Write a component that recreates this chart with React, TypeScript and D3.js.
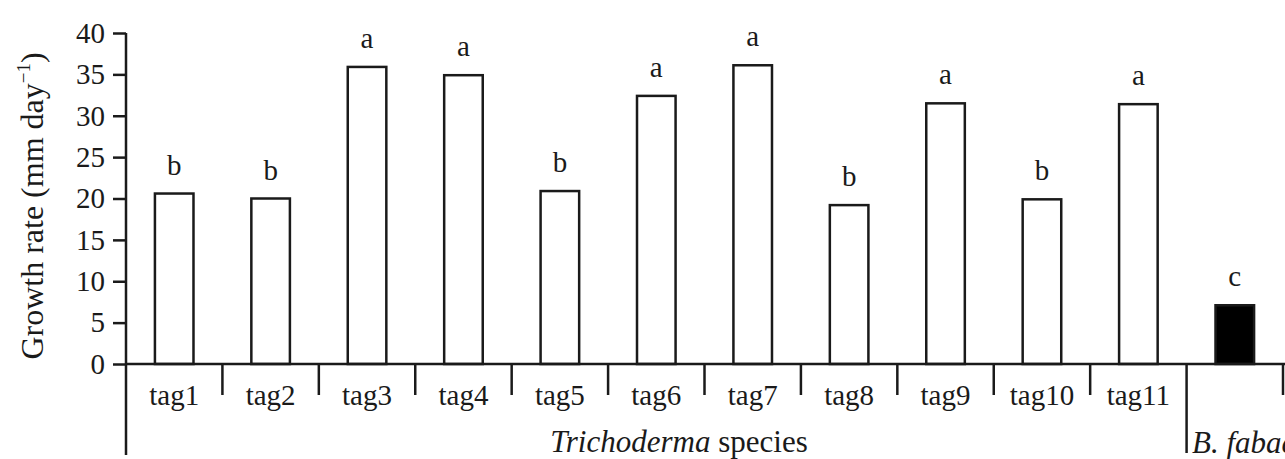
import React, { useEffect, useRef } from 'react';
import * as d3 from 'd3';

const categories = ['tag1', 'tag2', 'tag3', 'tag4', 'tag5', 'tag6', 'tag7', 'tag8', 'tag9', 'tag10', 'tag11', 'B. fabae'];
const growthRate = [20.6, 20.0, 35.9, 34.9, 20.9, 32.4, 36.1, 19.2, 31.5, 19.9, 31.4, 7.1];
const letters = ['b', 'b', 'a', 'a', 'b', 'a', 'a', 'b', 'a', 'b', 'a', 'c'];
const yTicks = [0, 5, 10, 15, 20, 25, 30, 35, 40];

const W = 1285;
const H = 459;

const App: React.FC = () => {
  const svgRef = useRef<SVGSVGElement>(null);

  useEffect(() => {
    if (!svgRef.current) return;
    const svg = d3.select(svgRef.current);
    svg.selectAll('*').remove();

    const font = '"Liberation Serif", "Times New Roman", serif';
    const left = 126;
    const right = 1283;
    const top = 33;
    const base = 364;

    const x = d3.scaleBand<string>().domain(categories).range([left, right]);
    const y = d3.scaleLinear().domain([0, 40]).range([base, top]);
    const barW = x.bandwidth() * 0.4;

    // bars
    svg.append('g')
      .selectAll('rect')
      .data(categories)
      .join('rect')
      .attr('x', d => x(d)! + x.bandwidth() / 2 - barW / 2)
      .attr('y', (d, i) => y(growthRate[i]))
      .attr('width', barW)
      .attr('height', (d, i) => base - y(growthRate[i]))
      .attr('fill', (d, i) => (i === categories.length - 1 ? '#000' : '#fff'))
      .attr('stroke', '#1a1a1a')
      .attr('stroke-width', 2.5);

    // significance letters
    svg.append('g')
      .selectAll('text')
      .data(categories)
      .join('text')
      .attr('x', d => x(d)! + x.bandwidth() / 2)
      .attr('y', (d, i) => y(growthRate[i]) - 19)
      .attr('text-anchor', 'middle')
      .attr('font-family', font)
      .attr('font-size', 29)
      .attr('fill', '#1a1a1a')
      .text((d, i) => letters[i]);

    // y axis
    const yAxis = svg.append('g')
      .attr('transform', `translate(${left},0)`)
      .call(d3.axisLeft(y).tickValues(yTicks).tickSize(13).tickPadding(8));
    yAxis.select('.domain').remove();
    yAxis.selectAll('line').attr('stroke', '#1a1a1a').attr('stroke-width', 2.5);
    yAxis.selectAll('text')
      .attr('font-family', font)
      .attr('font-size', 29)
      .attr('fill', '#1a1a1a');

    // axis lines
    svg.append('line')
      .attr('x1', left).attr('x2', left)
      .attr('y1', top).attr('y2', 455)
      .attr('stroke', '#1a1a1a').attr('stroke-width', 2.5);
    svg.append('line')
      .attr('x1', left).attr('x2', W)
      .attr('y1', base).attr('y2', base)
      .attr('stroke', '#1a1a1a').attr('stroke-width', 2.5);

    // category separators
    const bounds = categories.slice(1).map(c => x(c)!).concat([right]);
    svg.append('g')
      .selectAll('line')
      .data(bounds)
      .join('line')
      .attr('x1', d => d).attr('x2', d => d)
      .attr('y1', base)
      .attr('y2', (d, i) => (i === categories.length - 2 ? 453 : 395))
      .attr('stroke', '#1a1a1a')
      .attr('stroke-width', 2.5);

    // category labels
    svg.append('g')
      .selectAll('text')
      .data(categories.slice(0, categories.length - 1))
      .join('text')
      .attr('x', d => x(d)! + x.bandwidth() / 2)
      .attr('y', 405)
      .attr('text-anchor', 'middle')
      .attr('font-family', font)
      .attr('font-size', 29)
      .attr('fill', '#1a1a1a')
      .text(d => d);

    // group labels
    const grp = svg.append('text')
      .attr('x', 679)
      .attr('y', 452)
      .attr('text-anchor', 'middle')
      .attr('font-family', font)
      .attr('font-size', 31)
      .attr('fill', '#1a1a1a');
    grp.append('tspan').attr('font-style', 'italic').text('Trichoderma');
    grp.append('tspan').text(' species');

    svg.append('text')
      .attr('x', 1192)
      .attr('y', 453)
      .attr('font-family', font)
      .attr('font-size', 31)
      .attr('font-style', 'italic')
      .attr('fill', '#1a1a1a')
      .text(categories[categories.length - 1]);

    // y label
    const yl = svg.append('text')
      .attr('transform', 'translate(43,206) rotate(-90)')
      .attr('text-anchor', 'middle')
      .attr('font-family', font)
      .attr('font-size', 32)
      .attr('fill', '#1a1a1a');
    yl.append('tspan').text('Growth rate (mm day');
    yl.append('tspan').attr('font-size', 19).attr('dy', -13).text('\u22121');
    yl.append('tspan').attr('dy', 13).text(')');
  }, []);

  return (
    <svg
      ref={svgRef}
      width={W}
      height={H}
      style={{ position: 'absolute', left: 0, top: 0, background: '#fff' }}
    />
  );
};

export default App;
